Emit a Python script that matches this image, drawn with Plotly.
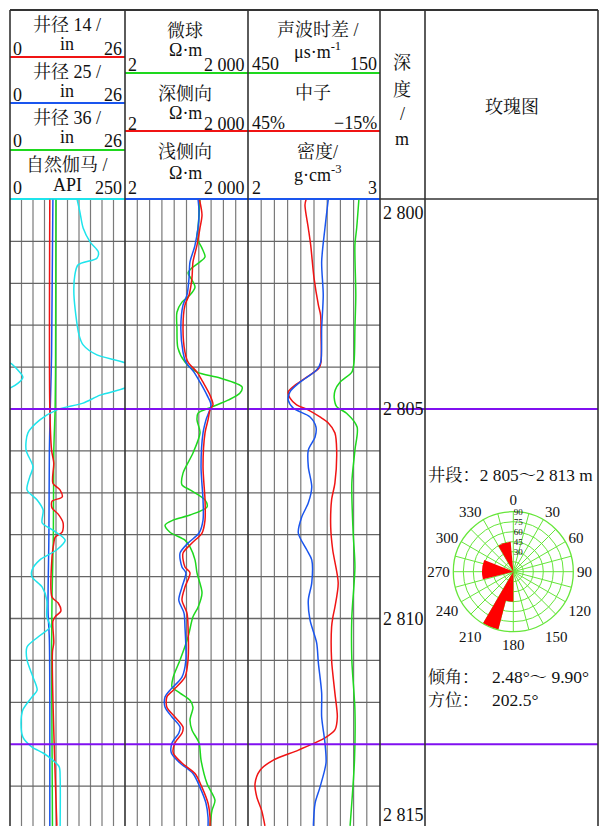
import plotly.graph_objects as go

# ---------------- data ----------------
# Track 1: calipers (in) and natural gamma (API)
cal14_depth = [2800.0, 2804.95, 2805.98, 2806.29, 2806.77, 2806.93, 2807.10, 2807.20, 2807.36, 2807.51,
               2807.72, 2807.94, 2808.06, 2808.20, 2808.53, 2809.49, 2809.63, 2809.82, 2809.96, 2810.06,
               2810.58, 2810.80, 2814.95]
cal14 = [9.0, 9.0, 9.4, 9.9, 9.7, 11.3, 11.8, 9.5, 9.5, 10.9,
         12.0, 11.8, 10.2, 9.9, 9.5, 9.5, 10.9, 11.5, 10.2, 9.7,
         9.9, 9.6, 10.6]
cal25_depth = [2800.0, 2803.7, 2805.0, 2806.0, 2808.0, 2809.8, 2810.5, 2812.0, 2814.95]
cal25 = [9.7, 9.4, 9.1, 8.9, 8.8, 8.6, 8.9, 9.0, 9.0]
cal36_depth = [2800.0, 2804.0, 2805.0, 2806.0, 2808.0, 2809.5, 2811.0, 2814.95]
cal36 = [10.4, 10.3, 10.2, 9.9, 9.8, 9.5, 9.4, 9.6]

gr_depth = [2800.0, 2800.30, 2800.68, 2801.01, 2801.25, 2801.40, 2801.56, 2801.80, 2802.28, 2803.23,
            2803.47, 2803.71, 2803.90, 2804.07, 2804.24, 2804.39, 2804.50, 2804.67, 2804.86, 2805.02,
            2805.26, 2805.57, 2805.98, 2806.38, 2806.62, 2806.93, 2807.17, 2807.41, 2807.72, 2807.89,
            2808.13, 2808.36, 2808.60, 2808.84, 2809.01, 2809.25, 2809.56, 2809.96, 2810.20, 2810.44,
            2810.68, 2810.99, 2811.40, 2811.71, 2811.87, 2812.18, 2812.50, 2812.83, 2813.07, 2813.21,
            2813.38, 2813.54, 2813.80, 2814.95]
gr = [146, 152, 159, 174, 192, 189, 148, 141, 139, 150,
      159, 189, 250, 267, 278, 267, 250, 196, 159, 102,
      65, 39, 35, 50, 43, 37, 59, 72, 70, 93,
      120, 102, 65, 48, 48, 70, 80, 80, 87, 61,
      37, 37, 50, 59, 48, 28, 24, 28, 48, 72,
      93, 107, 109, 109]

# Track 2: resistivity (ohm.m, log scale 2-2000)
msfl_depth = [2800.0, 2800.68, 2800.92, 2801.16, 2801.37, 2801.49, 2801.63, 2801.75, 2801.92, 2802.09,
              2802.28, 2802.45, 2802.69, 2803.07, 2803.54, 2803.88, 2804.12, 2804.26, 2804.47, 2804.62,
              2804.79, 2804.95, 2805.10, 2805.26, 2805.57, 2806.05, 2806.53, 2806.81, 2806.93, 2807.17,
              2807.34, 2807.53, 2807.65, 2807.77, 2807.94, 2808.13, 2808.29, 2808.60, 2808.91, 2809.39,
              2809.73, 2809.96, 2810.44, 2810.99, 2811.40, 2811.63, 2811.78, 2811.95, 2812.12, 2812.42,
              2812.66, 2812.97, 2813.38, 2813.94, 2814.34, 2814.58, 2814.95]
msfl = [135, 121, 114, 151, 179, 135, 86, 69, 86, 102,
        77, 49, 37, 37, 39, 58, 114, 415, 1428, 1276,
        650, 265, 121, 114, 135, 91, 52, 49, 77, 179,
        200, 77, 30, 19, 25, 58, 77, 102, 114, 151,
        121, 91, 69, 44, 30, 28, 44, 77, 91, 77,
        86, 128, 143, 200, 313, 265, 237]
lld_depth = [2800.0, 2800.37, 2800.68, 2801.09, 2801.49, 2801.87, 2802.28, 2802.52, 2803.07, 2803.64,
             2803.88, 2804.12, 2804.36, 2804.67, 2804.90, 2805.02, 2805.26, 2805.57, 2806.38, 2807.17,
             2807.65, 2807.96, 2808.20, 2808.44, 2808.77, 2808.91, 2809.25, 2809.56, 2809.87, 2810.20,
             2810.99, 2811.40, 2811.71, 2811.87, 2812.12, 2812.35, 2812.59, 2812.74, 2812.97, 2813.21,
             2813.45, 2813.70, 2814.03, 2814.41, 2814.75, 2814.95]
lld = [131, 151, 135, 114, 91, 86, 73, 58, 52, 58,
       69, 114, 160, 237, 280, 237, 212, 179, 160, 179,
       179, 151, 86, 52, 58, 77, 58, 49, 65, 69,
       69, 58, 30, 21, 21, 33, 52, 49, 33, 30,
       49, 102, 151, 212, 237, 237]
lls_depth = [2800.0, 2800.37, 2801.09, 2801.49, 2801.87, 2802.28, 2802.52, 2803.07, 2803.64, 2803.88,
             2804.12, 2804.36, 2804.67, 2804.90, 2805.26, 2805.57, 2806.38, 2807.17, 2807.65, 2807.96,
             2808.20, 2808.44, 2808.77, 2808.91, 2809.25, 2809.56, 2809.87, 2810.20, 2810.99, 2811.40,
             2811.71, 2811.87, 2812.12, 2812.35, 2812.59, 2812.74, 2812.97, 2813.21, 2813.45, 2813.70,
             2814.03, 2814.41, 2814.75, 2814.95]
lls = [121, 128, 102, 77, 73, 65, 52, 46, 52, 61,
       96, 135, 200, 250, 189, 160, 143, 160, 160, 128,
       69, 44, 49, 61, 49, 41, 55, 58, 61, 49,
       25, 19, 19, 28, 44, 41, 28, 27, 44, 91,
       135, 189, 212, 212]

# Track 3: sonic (us/m), neutron (%), density (g/cm3)
ac_depth = [2800.0, 2800.68, 2801.09, 2802.28, 2803.07, 2803.88, 2804.12, 2804.36, 2804.55, 2804.74,
            2804.95, 2805.10, 2805.43, 2805.98, 2806.77, 2807.96, 2808.77, 2809.96, 2810.99, 2812.18,
            2813.38, 2814.95]
ac = [198, 203, 207, 205, 207, 209, 214, 241, 252, 254,
      248, 226, 202, 207, 214, 211, 207, 214, 214, 207,
      208, 218]
cnl_depth = [2800.0, 2800.13, 2800.68, 2801.09, 2801.87, 2802.52, 2802.76, 2803.23, 2803.88, 2804.02,
             2804.24, 2804.43, 2804.59, 2804.74, 2804.90, 2805.02, 2805.19, 2805.33, 2805.57, 2805.98,
             2806.77, 2807.17, 2807.82, 2808.36, 2809.15, 2809.73, 2809.96, 2810.20, 2810.99, 2811.78,
             2812.35, 2812.66, 2812.85, 2813.14, 2813.38, 2813.62, 2813.94, 2814.26, 2814.58, 2814.95]
cnl = [18.6, 19.1, 17.6, 16.5, 15.0, 13.0, 12.0, 11.8, 11.8, 12.7,
       18.3, 23.6, 26.7, 25.9, 22.9, 17.7, 12.3, 8.6, 5.5, 4.7,
       5.5, 7.0, 7.4, 6.5, 4.0, 5.5, 6.4, 7.0, 7.0, 5.5,
       4.4, 5.5, 10.0, 22.1, 33.5, 39.5, 41.8, 41.0, 38.8, 37.3]
den_depth = [2800.0, 2800.68, 2801.49, 2802.28, 2803.07, 2803.88, 2804.07, 2804.36, 2804.59, 2804.79,
             2804.98, 2805.19, 2805.43, 2805.67, 2805.98, 2806.38, 2806.86, 2807.24, 2807.58, 2807.96,
             2808.36, 2808.60, 2809.15, 2809.56, 2810.04, 2810.58, 2811.06, 2811.78, 2812.35, 2812.97,
             2813.45, 2814.03, 2814.41, 2814.95]
den = [2.608, 2.583, 2.558, 2.570, 2.558, 2.551, 2.520, 2.394, 2.318, 2.305,
       2.343, 2.470, 2.515, 2.508, 2.457, 2.457, 2.483, 2.457, 2.407, 2.381,
       2.445, 2.483, 2.483, 2.457, 2.470, 2.520, 2.533, 2.558, 2.558, 2.583,
       2.591, 2.545, 2.508, 2.495]

depth_ticks = [2800, 2805, 2810, 2815]
depth_tick_text = ["2 800", "2 805", "2 810", "2 815"]
marker_depths = [2805, 2813]

# Rose diagram (azimuth bins, deg) and radial values
rose_theta = [202.5, 188.0, 274.0, 342.5]
rose_width = [16, 16, 36, 25]
rose_r = [90, 45, 47, 45]
rose_angle_ticks = list(range(0, 360, 15))
rose_radial_ticks = [15, 30, 45, 60, 75, 90]

# ---------------- styling ----------------
W, H = 599, 826
FONT = "'Liberation Serif', 'Noto Serif CJK SC', 'Noto Sans CJK SC', serif"
RED = "#F01414"
BLUE = "#1A55EE"
GREEN = "#1ED81E"
CYAN = "#1EE4EC"
PURPLE = "#8010F0"
ROSE_GREEN = "#66E63A"
BORDER = "#333333"
GRID = "#7a7a7a"

X_T1 = (10, 125)
X_T2 = (125, 248)
X_T3 = (248, 380)
X_DEP = (380, 425)
X_ROSE = (425, 598)
Y_TOP = 10
Y_BODY = 199.5


def px(x):
    return x / W


def py(y):
    return 1 - y / H


fig = go.Figure()


def curve(x, y, xa, color, width=1.5):
    fig.add_trace(go.Scatter(x=x, y=y, xaxis=xa, yaxis="y", mode="lines",
                             line=dict(color=color, width=width, shape="spline", smoothing=0.8),
                             hoverinfo="skip", showlegend=False))


# track 1
curve(cal36, cal36_depth, "x", GREEN)
curve(cal25, cal25_depth, "x", BLUE)
curve(cal14, cal14_depth, "x", RED)
curve(gr, gr_depth, "x2", CYAN)
curve([v - 250 for v in gr], gr_depth, "x2", CYAN)   # wrap-around (backup scale)
# track 2
curve(msfl, msfl_depth, "x3", GREEN)
curve(lls, lls_depth, "x3", BLUE)
curve(lld, lld_depth, "x3", RED)
# track 3
curve(ac, ac_depth, "x4", GREEN)
curve(den, den_depth, "x6", BLUE)
curve(cnl, cnl_depth, "x5", RED)

# rose
fig.add_trace(go.Barpolar(r=rose_r, theta=rose_theta, width=rose_width,
                          marker=dict(color="#FF0000", line=dict(width=0)),
                          subplot="polar", hoverinfo="skip", showlegend=False))

hidden = dict(visible=False, fixedrange=True)
y_max = 2800 + (H - Y_BODY) / 41.9

fig.update_layout(
    width=W, height=H, margin=dict(l=0, r=0, t=0, b=0),
    paper_bgcolor="white", plot_bgcolor="rgba(0,0,0,0)",
    font=dict(family=FONT, color="#111111", size=18),
    showlegend=False,
    xaxis=dict(domain=[px(X_T1[0]), px(X_T1[1])], range=[0, 26], **hidden),
    xaxis2=dict(domain=[px(X_T1[0]), px(X_T1[1])], range=[0, 250], overlaying="x", **hidden),
    xaxis3=dict(domain=[px(X_T2[0]), px(X_T2[1])], type="log", range=[0.30103, 3.30103], **hidden),
    xaxis4=dict(domain=[px(X_T3[0]), px(X_T3[1])], range=[450, 150], **hidden),
    xaxis5=dict(domain=[px(X_T3[0]), px(X_T3[1])], range=[45, -15], overlaying="x4", **hidden),
    xaxis6=dict(domain=[px(X_T3[0]), px(X_T3[1])], range=[2, 3], overlaying="x4", **hidden),
    yaxis=dict(domain=[0, py(Y_BODY)], range=[y_max, 2800], **hidden),
    polar=dict(
        domain=dict(x=[px(453.3), px(573.3)], y=[py(631.7), py(511.7)]),
        bgcolor="rgba(0,0,0,0)",
        angularaxis=dict(rotation=90, direction="clockwise", tickmode="array",
                         tickvals=rose_angle_ticks,
                         ticktext=[str(a) if a % 30 == 0 else "" for a in rose_angle_ticks],
                         showline=True, linecolor=ROSE_GREEN, linewidth=1.3,
                         gridcolor=ROSE_GREEN, gridwidth=1, ticks="",
                         tickfont=dict(size=15, family=FONT, color="#111111"),
                         layer="above traces"),
        radialaxis=dict(range=[0, 90], tickmode="array", tickvals=rose_radial_ticks,
                        ticktext=["" if v == 15 else str(v) for v in rose_radial_ticks],
                        angle=90, tickangle=90, showline=False, ticks="",
                        gridcolor=ROSE_GREEN, gridwidth=1,
                        tickfont=dict(size=9, family=FONT, color="#111111"),
                        layer="above traces"),
    ),
)

shapes = []


def hline(y, x0, x1, color, width=1.0, yref="paper"):
    shapes.append(dict(type="line", xref="paper", yref=yref, x0=px(x0), x1=px(x1),
                       y0=y, y1=y, line=dict(color=color, width=width), layer="below"))


def vline(x, y0, y1, color, width=1.0):
    shapes.append(dict(type="line", xref="paper", yref="paper", x0=px(x), x1=px(x),
                       y0=py(y0), y1=py(y1), line=dict(color=color, width=width), layer="above"))


# track gridlines
for xa in ["x", "x3", "x4"]:
    for i in range(1, 10):
        shapes.append(dict(type="line", xref=xa + " domain", yref="y domain", x0=i / 10, x1=i / 10,
                           y0=0, y1=1, line=dict(color=GRID, width=1.2), layer="below"))
for d in range(2801, 2815):
    if d not in marker_depths:
        hline(d, X_T1[0], X_T3[1], "#666666", 1.3, yref="y")
for d in marker_depths:
    shapes.append(dict(type="line", xref="paper", yref="y", x0=px(X_T1[0]), x1=px(X_ROSE[1]),
                       y0=d, y1=d, line=dict(color=PURPLE, width=2), layer="above"))

# header colored separators
hline(py(57), X_T1[0], X_T1[1], RED, 2)
hline(py(103), X_T1[0], X_T1[1], BLUE, 2)
hline(py(150), X_T1[0], X_T1[1], GREEN, 2)
hline(py(199), X_T1[0], X_T1[1], CYAN, 2)
hline(py(73), X_T2[0], X_T3[1], GREEN, 2)
hline(py(131), X_T2[0], X_T3[1], RED, 2)
hline(py(199), X_T2[0], X_T3[1], BLUE, 2)
hline(py(199), X_DEP[0], X_ROSE[1], BORDER, 1.5)

# borders and column separators
for x in [X_T1[0], X_T2[0], X_T3[0], X_DEP[0], X_ROSE[0], X_ROSE[1]]:
    vline(x, Y_TOP, H, BORDER, 1.6)
hline(py(Y_TOP), X_T1[0], X_ROSE[1], BORDER, 1.8)

fig.update_layout(shapes=shapes)

ann = []


def txt(x, y, s, xanchor="center", size=18):
    ann.append(dict(x=px(x), y=py(y), xref="paper", yref="paper", text=s, showarrow=False,
                    xanchor=xanchor, yanchor="middle", borderpad=0,
                    font=dict(size=size, family=FONT, color="#111111")))


# track 1 header
for (title, unit, lo, hi, yt, yu, ys) in [
    ("井径 14 /", "in", "0", "26", 25, 44, 49),
    ("井径 25 /", "in", "0", "26", 72, 91, 95),
    ("井径 36 /", "in", "0", "26", 118, 137, 141),
    ("自然伽马 /", "API", "0", "250", 165, 185, 188),
]:
    txt(67, yt, title)
    txt(67, yu, unit)
    txt(12, ys, lo, "left")
    txt(123, ys, hi, "right")

# track 2 header
for (title, yt, yu, ys) in [("微球", 31, 50, 65), ("深侧向", 94, 113, 124), ("浅侧向", 152, 173, 188)]:
    txt(185, yt, title)
    txt(185, yu, "Ω·m")
    txt(127, ys, "2", "left")
    txt(246, ys, "2 000", "right")

# track 3 header
txt(318, 30, "声波时差 /")
txt(317, 51, "μs·m<sup>-1</sup>")
txt(251, 64, "450", "left")
txt(378, 64, "150", "right")
txt(313, 93, "中子")
txt(251, 123, "45%", "left")
txt(378, 123, "−15%", "right")
txt(317, 152, "密度/")
txt(317, 174, "g·cm<sup>-3</sup>")
txt(251, 188, "2", "left")
txt(378, 188, "3", "right")

# depth header
txt(402, 63, "深")
txt(402, 90, "度")
txt(402, 114, "/")
txt(402, 139, "m")
# rose header
txt(512, 107, "玫瑰图")

# depth labels
for d, s in zip(depth_ticks, depth_tick_text):
    if d == 2800:
        yv, ya, sh = 2800, "top", -1
    elif d == 2815:
        yv, ya, sh = 2814.9, "bottom", -3
    else:
        yv, ya, sh = d, "middle", 0
    ann.append(dict(x=px(381), y=yv, xref="paper", yref="y", text=s, showarrow=False,
                    xanchor="left", yanchor=ya, yshift=sh,
                    font=dict(size=18, family=FONT, color="#111111")))

# rose texts
txt(427, 475, "井段：2 805～2 813 m", "left", 17.3)
txt(427, 677, "倾角：", "left", 17)
txt(491, 677, "2.48°～ 9.90°", "left", 17.5)
txt(427, 700, "方位：", "left", 17)
txt(491, 700, "202.5°", "left", 17.5)

fig.update_layout(annotations=ann)

fig.write_html("out.html", config={"displayModeBar": False},
               post_script="document.body.style.margin='0';document.body.style.overflow='hidden';")
